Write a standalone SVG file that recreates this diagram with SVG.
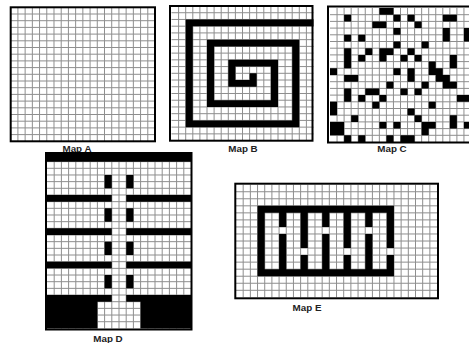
<svg xmlns="http://www.w3.org/2000/svg" xmlns:xlink="http://www.w3.org/1999/xlink" width="469" height="343" viewBox="0 0 469 343">
<style>
.grid{fill:none;stroke:#8e8e8e;stroke-width:1;vector-effect:non-scaling-stroke}
.k{fill:#000}
.bd{fill:none;stroke:#000;stroke-width:2}
.lbl{font-family:"Liberation Sans",Arial,sans-serif;font-weight:bold;font-size:9.8px;fill:#222;text-anchor:middle}
</style>
<defs>
<path id="g20" class="grid" d="M0 1H20M0 2H20M0 3H20M0 4H20M0 5H20M0 6H20M0 7H20M0 8H20M0 9H20M0 10H20M0 11H20M0 12H20M0 13H20M0 14H20M0 15H20M0 16H20M0 17H20M0 18H20M0 19H20M1 0V20M2 0V20M3 0V20M4 0V20M5 0V20M6 0V20M7 0V20M8 0V20M9 0V20M10 0V20M11 0V20M12 0V20M13 0V20M14 0V20M15 0V20M16 0V20M17 0V20M18 0V20M19 0V20"/>
<path id="gD" class="grid" d="M0 -1H20M0 0H20M0 1H20M0 2H20M0 3H20M0 4H20M0 5H20M0 6H20M0 7H20M0 8H20M0 9H20M0 10H20M0 11H20M0 12H20M0 13H20M0 14H20M0 15H20M0 16H20M0 17H20M0 18H20M0 19H20M0 20H20M0 21H20M0 22H20M0 23H20M1 -1V24M2 -1V24M3 -1V24M4 -1V24M5 -1V24M6 -1V24M7 -1V24M8 -1V24M9 -1V24M10 -1V24M11 -1V24M12 -1V24M13 -1V24M14 -1V24M15 -1V24M16 -1V24M17 -1V24M18 -1V24M19 -1V24"/>
<path id="gE" class="grid" d="M0 1H28M0 2H28M0 3H28M0 4H28M0 5H28M0 6H28M0 7H28M0 8H28M0 9H28M0 10H28M0 11H28M0 12H28M0 13H28M0 14H28M0 15H28M1 0V16M2 0V16M3 0V16M4 0V16M5 0V16M6 0V16M7 0V16M8 0V16M9 0V16M10 0V16M11 0V16M12 0V16M13 0V16M14 0V16M15 0V16M16 0V16M17 0V16M18 0V16M19 0V16M20 0V16M21 0V16M22 0V16M23 0V16M24 0V16M25 0V16M26 0V16M27 0V16"/>
</defs>
<rect width="469" height="343" fill="#fff"/>

<g id="mapA">
<g transform="translate(10.7,7.3) scale(7.215,6.7)"><use xlink:href="#g20"/></g>
<rect class="bd" x="10.7" y="7.3" width="144.3" height="134"/>
<text class="lbl" x="77" y="152">Map A</text>
</g>

<g id="mapB">
<g transform="translate(171.5,6) scale(7.1,6.73)">
<use xlink:href="#g20"/>
<path class="k" d="M2 2h18v1h-18zM2 2h1v16h-1zM2 17h16v1h-16zM17 5h1v13h-1zM5 5h13v1h-13zM5 5h1v10h-1zM5 14h10v1h-10zM14 8h1v7h-1zM8 8h7v1h-7zM8 8h1v4h-1zM8 11h4v1h-4zM11 10h1v2h-1z"/>
</g>
<rect class="bd" x="170" y="6" width="142.5" height="134.7"/>
<text class="lbl" x="243" y="152">Map B</text>
</g>

<g id="mapC">
<g transform="translate(330,8) scale(7.05,6.7)">
<use xlink:href="#g20"/>
<path class="k" d="M7 0h2v1h-2zM2 1h1v1h-1zM9 1h1v1h-1zM11 1h1v1h-1zM16 1h2v1h-2zM6 2h2v1h-2zM12 2h1v1h-1zM9 3h1v1h-1zM16 3h1v2h-1zM19 3h1v2h-1zM2 4h1v1h-1zM4 4h1v1h-1zM9 5h1v1h-1zM13 5h1v1h-1zM2 6h1v3h-1zM5 6h1v1h-1zM7 6h2v1h-2zM11 6h1v1h-1zM4 7h1v1h-1zM7 7h1v1h-1zM10 7h1v1h-1zM12 7h1v1h-1zM17 7h1v2h-1zM14 8h1v2h-1zM0 9h1v1h-1zM9 9h1v1h-1zM11 9h1v2h-1zM15 9h1v2h-1zM2 10h2v1h-2zM16 10h1v2h-1zM8 11h1v1h-1zM13 11h1v1h-1zM17 11h1v1h-1zM2 12h1v2h-1zM5 12h2v1h-2zM10 12h1v1h-1zM12 12h1v1h-1zM4 13h1v1h-1zM7 13h1v1h-1zM18 13h2v1h-2zM0 14h1v2h-1zM6 14h1v1h-1zM14 14h1v1h-1zM11 15h1v1h-1zM3 16h1v1h-1zM12 16h1v1h-1zM17 16h1v2h-1zM0 17h2v2h-2zM7 17h1v1h-1zM9 17h1v1h-1zM13 17h2v1h-2zM19 17h1v1h-1zM13 18h1v1h-1zM2 19h1v1h-1zM4 19h1v1h-1zM8 19h1v1h-1zM10 19h2v1h-2z"/>
</g>
<rect class="bd" x="328" y="6.5" width="150" height="136"/>
<text class="lbl" x="392" y="152">Map C</text>
</g>

<g id="mapD">
<g transform="translate(47,168.3) scale(7.2,6.67)">
<use xlink:href="#gD"/>
<path class="k" d="M0 -2.4h20v1.4h-20zM0 4h9v1h-9zM11 4h9v1h-9zM0 9h9v1h-9zM11 9h9v1h-9zM0 14h9v1h-9zM11 14h9v1h-9zM8 1h1v2h-1zM11 1h1v2h-1zM8 6h1v2h-1zM11 6h1v2h-1zM8 11h1v2h-1zM11 11h1v2h-1zM8 16h1v2h-1zM11 16h1v2h-1zM0 19h9v1h-9zM11 19h9v1h-9zM0 20h7v4h-7zM13 20h7v4h-7z"/>
</g>
<rect class="bd" x="46" y="153" width="145.5" height="176.5"/>
<text class="lbl" x="108" y="342">Map D</text>
</g>

<g id="mapE">
<g transform="translate(236,184.7) scale(7.18,7.04)">
<use xlink:href="#gE"/>
<path class="k" d="M3 3h19v1h-19zM3 12h19v1h-19zM3 3h1v10h-1zM21 3h1v6h-1zM21 10h1v3h-1zM6 3h1v3h-1zM6 7h1v6h-1zM9 3h1v6h-1zM9 10h1v3h-1zM12 3h1v3h-1zM12 7h1v6h-1zM15 3h1v6h-1zM15 10h1v3h-1zM18 3h1v3h-1zM18 7h1v6h-1z"/>
</g>
<rect class="bd" x="235.3" y="183.7" width="202.7" height="114.6"/>
<text class="lbl" x="307" y="311">Map E</text>
</g>
</svg>
